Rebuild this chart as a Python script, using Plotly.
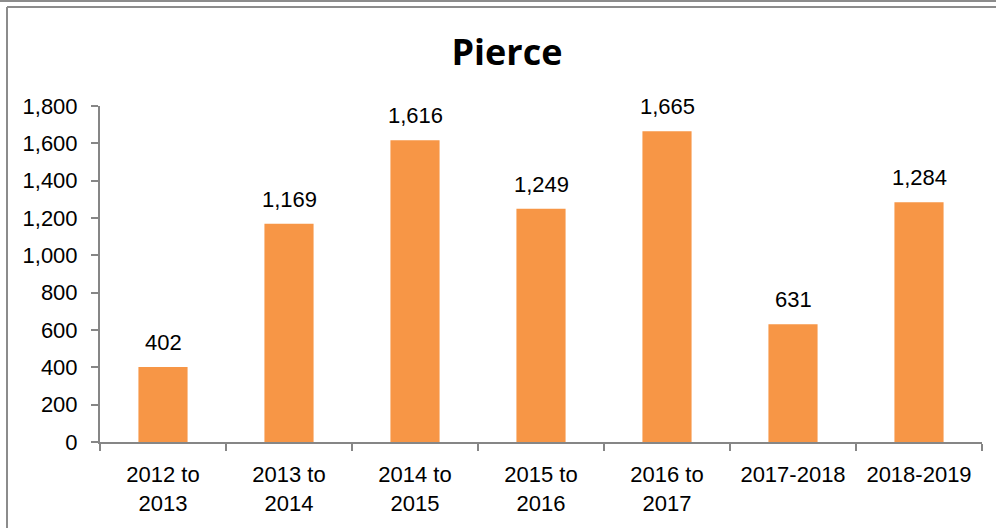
import plotly.graph_objects as go

categories = ["2012 to<br>2013", "2013 to<br>2014", "2014 to<br>2015", "2015 to<br>2016",
              "2016 to<br>2017", "2017-2018", "2018-2019"]
values = [402, 1169, 1616, 1249, 1665, 631, 1284]
y_ticks = [0, 200, 400, 600, 800, 1000, 1200, 1400, 1600, 1800]

W, H = 996, 528
L, R, T, B = 100, 14, 106, 86
pw, ph = W - L - R, H - T - B

def px(x):
    return (x - L) / pw

def py(y):
    return (H - B - y) / ph

fig = go.Figure(go.Bar(
    x=categories, y=values,
    marker=dict(color="#F79646", line=dict(width=0)),
    cliponaxis=False, width=0.39,
))

for c, v in zip(categories, values):
    fig.add_annotation(x=c, y=v, text=f"{v:,}", showarrow=False, yanchor="bottom",
                       yshift=10, font=dict(size=22, color="#000000", family="Liberation Sans"))

fig.update_layout(
    width=W, height=H,
    margin=dict(l=L, r=R, t=T, b=B),
    paper_bgcolor="white", plot_bgcolor="white",
    font=dict(family="Liberation Sans", size=22, color="#000000"),
    title=dict(text="<b>Pierce</b>", x=0.509, xref="container", xanchor="center",
               y=1 - 52 / H, yref="container", yanchor="middle",
               font=dict(size=36, family="Open Sans", color="#000000")),
    showlegend=False,
    xaxis=dict(showline=True, linecolor="#868686", linewidth=2,
               ticks="outside", tickson="boundaries", ticklen=7, tickcolor="#868686",
               tickwidth=2, showgrid=False, tickfont=dict(size=22), ticklabelstandoff=12),
    yaxis=dict(range=[0, 1800], tickvals=y_ticks, tickformat=",",
               showline=True, linecolor="#868686", linewidth=2,
               ticks="outside", ticklen=7, tickcolor="#868686", tickwidth=2,
               showgrid=False, zeroline=False, tickfont=dict(size=22), ticklabelstandoff=9),
    shapes=[
        dict(type="line", xref="paper", yref="paper", x0=px(0), x1=px(W), y0=py(1), y1=py(1),
             line=dict(color="#8c8c8c", width=2)),
        dict(type="line", xref="paper", yref="paper", x0=px(7), x1=px(W), y0=py(7), y1=py(7),
             line=dict(color="#8c8c8c", width=2)),
        dict(type="line", xref="paper", yref="paper", x0=px(7), x1=px(7), y0=py(7), y1=py(H),
             line=dict(color="#8c8c8c", width=2)),
    ],
)

fig.write_html("out.html", config={"displayModeBar": False},
               post_script="document.body.style.margin='0';")
